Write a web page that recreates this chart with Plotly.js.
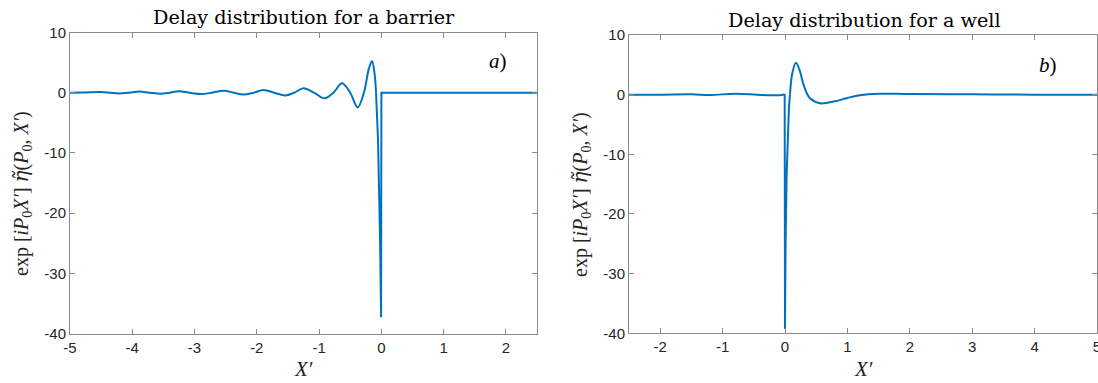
<!DOCTYPE html>
<html>
<head>
<meta charset="utf-8">
<script src="https://cdn.plot.ly/plotly-3.0.1.min.js"></script>
<style>html,body{margin:0;padding:0;background:#fff;}#chart{width:1098px;height:383px;}</style>
</head>
<body>
<div id="chart"></div>
<script>
// ---- Panel a) barrier: oscillating tail (smooth) ----
const barrierOscX = [-5, -4.8, -4.5, -4.36, -4.22, -4.05, -3.89, -3.72, -3.54, -3.4, -3.25, -3.08, -2.9, -2.72, -2.53, -2.37, -2.21, -2.05, -1.89, -1.72, -1.54, -1.4, -1.25, -1.08, -0.91, -0.77, -0.63, -0.5, -0.38, -0.28, -0.2, -0.15, -0.11, -0.085];
const barrierOscY = [0, 0.02, 0.1, 0, -0.12, 0, 0.2, 0, -0.18, 0, 0.25, 0, -0.22, 0, 0.33, 0, -0.3, 0, 0.45, 0, -0.45, 0, 0.73, 0, -0.93, 0, 1.56, 0, -2.43, 0, 4.0, 5.27, 3.3, 0];
// ---- Panel a) barrier: spike at X'=0 ----
const barrierSpikeX = [-0.085, -0.053, -0.02, -0.004, 0.001, 0.003, 2.5];
const barrierSpikeY = [0, -7.9, -24.5, -37.3, 0, 0, 0];

// ---- Panel b) well ----
const wellPreX = [-2.5, -2.0, -1.5, -1.2, -0.8, -0.45, -0.2, -0.03, -0.005];
const wellPreY = [0, 0, 0.05, -0.05, 0.15, 0, -0.1, 0, 0.1];
const wellSpikeX = [-0.005, 0.0, 0.01, 0.027, 0.043, 0.064, 0.08];
const wellSpikeY = [0.1, -39.3, -24.3, -13.2, -7.6, -2.0, 0];
const wellPostX = [0.08, 0.117, 0.176, 0.24, 0.29, 0.35, 0.4, 0.56, 0.8, 1.0, 1.2, 1.5, 2.0, 3.0, 4.0, 5.0];
const wellPostY = [0, 3.6, 5.36, 3.9, 1.9, 0.23, -0.6, -1.44, -1.1, -0.55, -0.1, 0.15, 0.1, 0.05, 0, 0];

const titleA = "Delay distribution for a barrier";
const titleB = "Delay distribution for a well";
const yLabel = "exp [<i>iP</i><sub>0</sub><i>X′</i>] <span style=\"font-family:DejaVu Serif\"><i>η̃</i></span>(<i>P</i><sub>0</sub>, <i>X′</i>)";
const xLabel = "<i>X′</i>";
const yTicks = [-40, -30, -20, -10, 0, 10];
const xTicksA = [-5, -4, -3, -2, -1, 0, 1, 2];
const xTicksB = [-2, -1, 0, 1, 2, 3, 4, 5];

const lineColor = '#0072BD';
const ln = {color: lineColor, width: 2};
const traces = [
  {x: barrierOscX, y: barrierOscY, xaxis: 'x', yaxis: 'y', mode: 'lines', line: Object.assign({shape: 'spline', smoothing: 1}, ln), showlegend: false, hoverinfo: 'skip'},
  {x: barrierSpikeX, y: barrierSpikeY, xaxis: 'x', yaxis: 'y', mode: 'lines', line: ln, showlegend: false, hoverinfo: 'skip'},
  {x: wellPreX, y: wellPreY, xaxis: 'x2', yaxis: 'y2', mode: 'lines', line: Object.assign({shape: 'spline', smoothing: 1}, ln), showlegend: false, hoverinfo: 'skip'},
  {x: wellSpikeX, y: wellSpikeY, xaxis: 'x2', yaxis: 'y2', mode: 'lines', line: ln, showlegend: false, hoverinfo: 'skip'},
  {x: wellPostX, y: wellPostY, xaxis: 'x2', yaxis: 'y2', mode: 'lines', line: Object.assign({shape: 'spline', smoothing: 1}, ln), showlegend: false, hoverinfo: 'skip'}
];

const axColor = '#8a8a8a';
const tickFont = {family: 'Liberation Sans, Arial, sans-serif', size: 15, color: '#262626'};
function xax(range, ticks, domain, anchor) {
  return {range: range, domain: domain, anchor: anchor, tickvals: ticks, ticktext: ticks.map(String),
    ticks: 'inside', ticklen: 5, tickcolor: axColor, showline: true, linecolor: axColor, linewidth: 1,
    mirror: 'ticks', showgrid: false, zeroline: false, tickfont: tickFont, fixedrange: true,
    ticklabeloverflow: 'allow'};
}
function yax(domain, anchor) {
  return {range: [-40, 10], domain: domain, anchor: anchor, tickvals: yTicks, ticktext: yTicks.map(String),
    ticks: 'inside', ticklen: 5, tickcolor: axColor, showline: true, linecolor: axColor, linewidth: 1,
    mirror: 'ticks', showgrid: false, zeroline: false, tickfont: tickFont, fixedrange: true,
    ticklabeloverflow: 'allow'};
}
const W = 1098, H = 383;
const serif = 'Liberation Serif, Times New Roman, serif';
const titleSerif = 'DejaVu Serif, serif';
const layout = {
  width: W, height: H,
  margin: {l: 0, r: 0, t: 0, b: 0},
  paper_bgcolor: '#fff', plot_bgcolor: '#fff',
  showlegend: false,
  xaxis: xax([-5, 2.5], xTicksA, [70/W, 537/W], 'y'),
  yaxis: yax([1 - 333.5/H, 1 - 32.5/H], 'x'),
  xaxis2: xax([-2.5, 5], xTicksB, [629/W, 1097/W], 'y2'),
  yaxis2: yax([1 - 333.3/H, 1 - 35/H], 'x2'),
  annotations: [
    {text: titleA, xref: 'paper', yref: 'paper', x: 304/W, y: 1 - 17/H, xanchor: 'center', yanchor: 'middle', showarrow: false, font: {family: titleSerif, size: 19.2, color: '#000'}},
    {text: titleB, xref: 'paper', yref: 'paper', x: 864/W, y: 1 - 20/H, xanchor: 'center', yanchor: 'middle', showarrow: false, font: {family: titleSerif, size: 19.2, color: '#000'}},
    {text: yLabel, xref: 'paper', yref: 'paper', x: 22/W, y: 1 - 194/H, textangle: -90, xanchor: 'center', yanchor: 'middle', showarrow: false, font: {family: serif, size: 20, color: '#262626'}},
    {text: yLabel, xref: 'paper', yref: 'paper', x: 581/W, y: 1 - 195/H, textangle: -90, xanchor: 'center', yanchor: 'middle', showarrow: false, font: {family: serif, size: 20, color: '#262626'}},
    {text: xLabel, xref: 'paper', yref: 'paper', x: 303.5/W, y: 1 - 369/H, xanchor: 'center', yanchor: 'middle', showarrow: false, font: {family: serif, size: 21, color: '#262626'}},
    {text: xLabel, xref: 'paper', yref: 'paper', x: 863/W, y: 1 - 369/H, xanchor: 'center', yanchor: 'middle', showarrow: false, font: {family: serif, size: 21, color: '#262626'}},
    {text: '<i>a</i>)', xref: 'x', yref: 'y', x: 1.88, y: 5.3, xanchor: 'center', yanchor: 'middle', showarrow: false, font: {family: serif, size: 21, color: '#000'}},
    {text: '<i>b</i>)', xref: 'x2', yref: 'y2', x: 4.22, y: 5.0, xanchor: 'center', yanchor: 'middle', showarrow: false, font: {family: serif, size: 21, color: '#000'}}
  ]
};
Plotly.newPlot('chart', traces, layout, {staticPlot: true, displayModeBar: false});
</script>
</body>
</html>
